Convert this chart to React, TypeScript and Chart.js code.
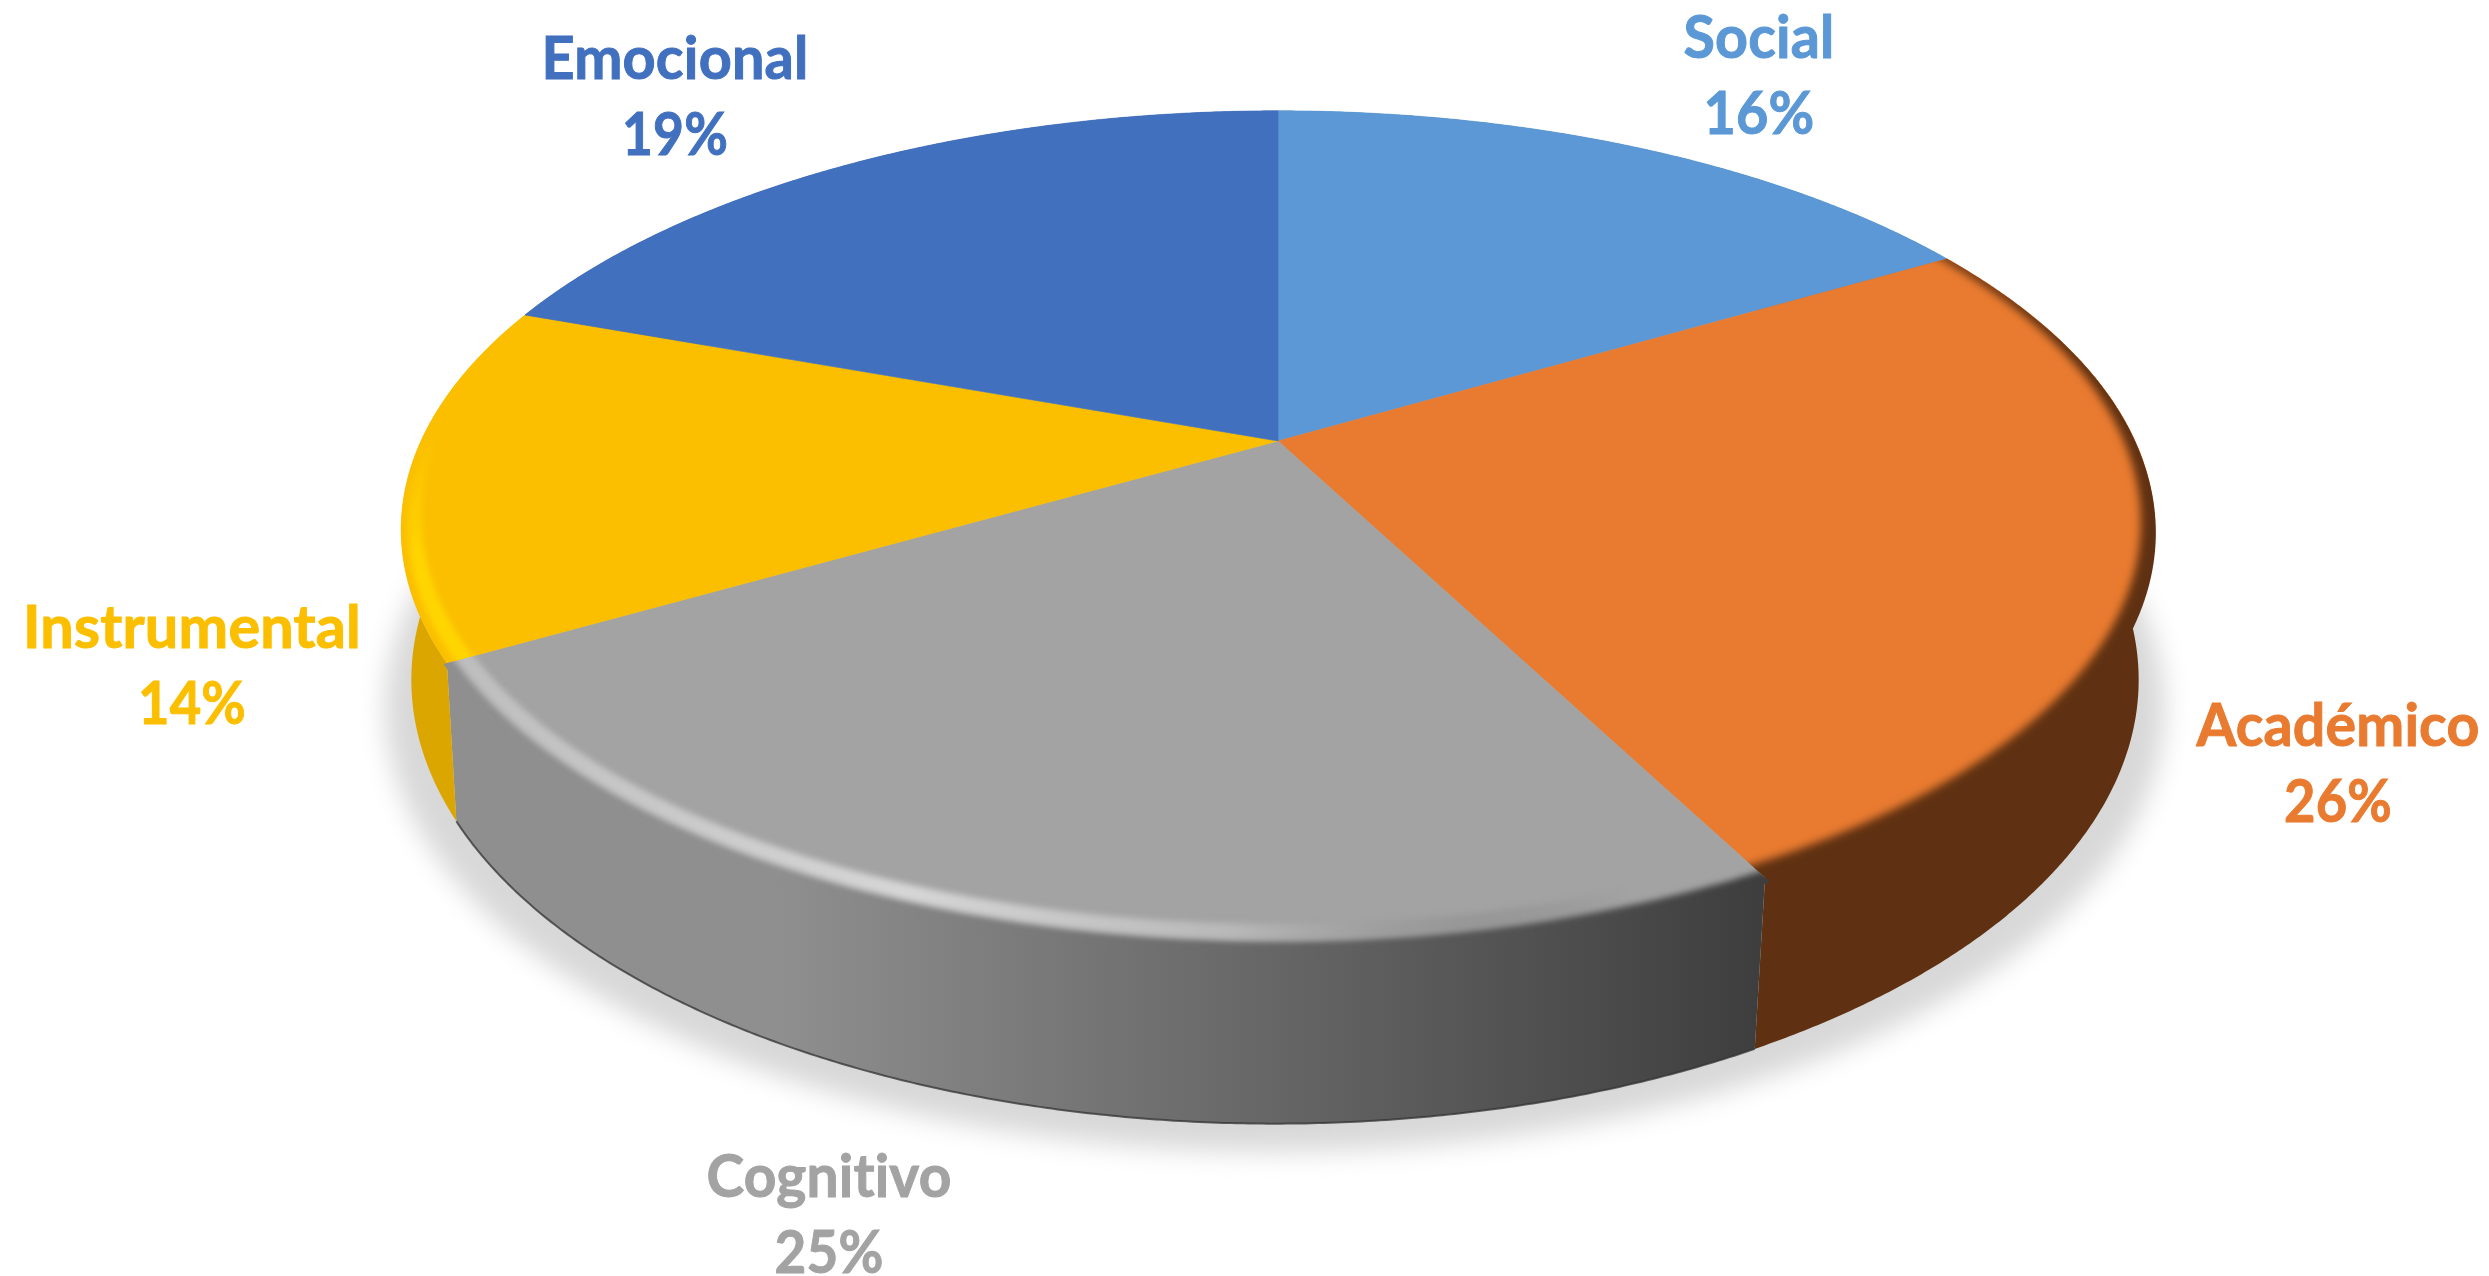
import React, { useEffect, useRef } from "react";
import { Chart, registerables } from "chart.js";

Chart.register(...registerables);

// ---- data ----
const categories = ["Social", "Académico", "Cognitivo", "Instrumental", "Emocional"];
const percentages = [16, 26, 25, 14, 19];

// ---- styles ----
const faceColors = ["#5B98D5", "#E97B30", "#A3A3A3", "#FBBF00", "#4170BF"];
const wallFrom = ["#3d6a96", "#5F3112", "#8F8F8F", "#DCA600", "#2b4c85"];
const wallTo = ["#3d6a96", "#5F3112", "#3E3E3E", "#DCA600", "#2b4c85"];
const labelCentres = [[1759, 58], [2338, 746], [829, 1197], [192, 648], [675, 79]];
const nameWidths = [151, 283, 245, 338, 267];
const percentWidths = [111, 108, 109, 108, 106];

const W = 2489;
const H = 1276;
const CX = 1278;
const CY = 441;
const A = 857;
const B = 400;
const K = 0.2114;
const FONT = '"Lato", "Noto Sans", sans-serif';

// Perspective projection of a point of the unit disc (theta clockwise from the top).
function project(theta: number, r: number) {
  const t = theta + 0.0349 * Math.sin(theta) + 0.00576 * (1 - Math.cos(theta)) + 0.00586 * Math.sin(2 * theta);
  const x = r * Math.sin(t);
  const y = -r * Math.cos(t);
  const w = 1 - K * y;
  return { x: CX + (A * x) / w, y: CY + (B * y) / w };
}
function projectBottom(theta: number) {
  const p = project(theta, 1);
  return { x: CX - 3 + 0.985 * (p.x - CX), y: CY + 145 + 1.06 * (p.y - CY) };
}
function arcPoints(a0: number, a1: number, f: (t: number) => { x: number; y: number }) {
  const n = Math.max(2, Math.ceil(Math.abs(a1 - a0) / 0.006));
  const pts = [];
  for (let i = 0; i <= n; i++) pts.push(f(a0 + ((a1 - a0) * i) / n));
  return pts;
}
function trace(ctx: CanvasRenderingContext2D, pts: { x: number; y: number }[], start = true) {
  pts.forEach((p, i) => (i === 0 && start ? ctx.moveTo(p.x, p.y) : ctx.lineTo(p.x, p.y)));
}
function hGradient(ctx: CanvasRenderingContext2D, x0: number, x1: number, stops: [number, string][]) {
  const g = ctx.createLinearGradient(x0, 0, x1, 0);
  stops.forEach(([o, c]) => g.addColorStop(o, c));
  return g;
}
// bevel thickness: hair-thin at the back of the disc, widest at the front
const bevel = (t: number) => 0.003 + 0.03 * ((1 - Math.cos(t)) / 2);
// how far a bevel may spill over the wall: only on the front half of the disc
const spill = (t: number) => 1 + 0.3 * bevel(t) * Math.max(0, -Math.cos(t));

const pie3d = {
  id: "pie3d",
  beforeDatasetDraw(chart: any) {
    const ctx: CanvasRenderingContext2D = chart.ctx;
    const arcs = chart.getDatasetMeta(0).data;
    const TWO = Math.PI * 2;
    const slices = arcs.map((a: any) => ({
      t0: a.startAngle + Math.PI / 2,
      t1: a.endAngle + Math.PI / 2,
    }));

    ctx.save();
    // soft ground shadow
    ctx.save();
    ctx.filter = "blur(13px)";
    ctx.fillStyle = "#d8d8d8";
    ctx.beginPath();
    trace(ctx, arcPoints(0, TWO, (t) => {
      const p = projectBottom(t);
      return { x: CX + 1.03 * (p.x - CX), y: p.y + 28 };
    }));
    ctx.closePath();
    ctx.fill();
    ctx.restore();

    // side walls
    const wallFill = (i: number) =>
      hGradient(ctx, 448, 1758, [[0, wallFrom[i]], [0.25, wallFrom[i]], [1, wallTo[i]]]);
    slices.forEach((s: any, i: number) => {
      ctx.fillStyle = wallFill(i);
      ctx.beginPath();
      trace(ctx, arcPoints(s.t0, s.t1, (t) => project(t, 1)));
      trace(ctx, arcPoints(s.t1, s.t0, projectBottom), false);
      ctx.closePath();
      ctx.fill();
    });

    // thin dark line under the grey wall
    const g = slices[2];
    ctx.strokeStyle = "rgba(50,50,50,0.75)";
    ctx.lineWidth = 2;
    ctx.beginPath();
    trace(ctx, arcPoints(g.t0, g.t1, projectBottom));
    ctx.stroke();

    // top faces
    slices.forEach((s: any, i: number) => {
      ctx.fillStyle = faceColors[i];
      ctx.strokeStyle = faceColors[i];
      ctx.lineWidth = 0.6;
      ctx.beginPath();
      ctx.moveTo(CX, CY);
      trace(ctx, arcPoints(s.t0, s.t1, (t) => project(t, 1)), false);
      ctx.closePath();
      ctx.fill();
      ctx.stroke();
    });

    // bevel bands along the rim
    const yellowFade = ctx.createLinearGradient(0, 430, 0, 560);
    yellowFade.addColorStop(0, "rgba(255,213,0,0)");
    yellowFade.addColorStop(1, "rgba(255,213,0,1)");
    const greyRidge = hGradient(ctx, 448, 1758, [
      [0, "#bdbdbd"],
      [0.35, "#d6d6d6"],
      [0.6, "#b8b8b8"],
      [0.78, "rgba(140,140,140,0.5)"],
      [0.9, "rgba(120,120,120,0)"],
      [1, "rgba(120,120,120,0)"],
    ]);
    const bands: { slice: number; inner: number; outer: number; blur: number; color: any }[] = [
      { slice: 1, inner: 0.75, outer: -1, blur: 4, color: wallFill(1) },
      { slice: 2, inner: 0.35, outer: -1, blur: 3, color: wallFill(2) },
      { slice: 2, inner: 1.15, outer: 0.4, blur: 3, color: greyRidge },
      { slice: 3, inner: 1.1, outer: 0.35, blur: 3, color: yellowFade },
    ];
    bands.forEach((style) => {
      const s = slices[style.slice];
      ctx.save();
      ctx.beginPath();
      ctx.moveTo(CX, CY);
      trace(ctx, arcPoints(s.t0, s.t1, (t) => project(t, spill(t))), false);
      ctx.closePath();
      ctx.clip();
      ctx.filter = `blur(${style.blur}px)`;
      ctx.fillStyle = style.color;
      ctx.beginPath();
      trace(ctx, arcPoints(s.t0 - 0.05, s.t1 + 0.05, (t) => project(t, 1 - style.outer * bevel(t))));
      trace(ctx, arcPoints(s.t1 + 0.05, s.t0 - 0.05, (t) => project(t, 1 - style.inner * bevel(t))), false);
      ctx.closePath();
      ctx.fill();
      ctx.restore();
    });

    // labels
    ctx.filter = "blur(0.6px)";
    ctx.textAlign = "center";
    ctx.textBaseline = "alphabetic";
    (ctx as any).letterSpacing = "0.2px"; // no "ti" ligature
    ctx.font = `700 60px ${FONT}`;
    ctx.lineWidth = 1;
    categories.forEach((name, i) => {
      const [x, y] = labelCentres[i];
      ctx.fillStyle = faceColors[i];
      ctx.strokeStyle = faceColors[i];
      ctx.fillText(name, x, y, nameWidths[i]);
      ctx.strokeText(name, x, y, nameWidths[i]);
      ctx.fillText(`${percentages[i]}%`, x, y + 76, percentWidths[i]);
      ctx.strokeText(`${percentages[i]}%`, x, y + 76, percentWidths[i]);
    });
    ctx.restore();
    return false;
  },
};

export default function App() {
  const ref = useRef<HTMLCanvasElement | null>(null);
  useEffect(() => {
    if (!ref.current) return;
    const chart = new Chart(ref.current, {
      type: "pie",
      data: {
        labels: categories,
        datasets: [{ data: percentages, backgroundColor: faceColors, borderWidth: 0 }],
      },
      options: {
        responsive: false,
        animation: false,
        rotation: 0,
        plugins: { legend: { display: false }, tooltip: { enabled: false } },
      },
      plugins: [pie3d],
    } as any);
    return () => chart.destroy();
  }, []);
  return (
    <div style={{ position: "absolute", left: 0, top: 0, width: W, height: H, background: "#fff" }}>
      <canvas ref={ref} width={W} height={H} style={{ display: "block" }} />
    </div>
  );
}
